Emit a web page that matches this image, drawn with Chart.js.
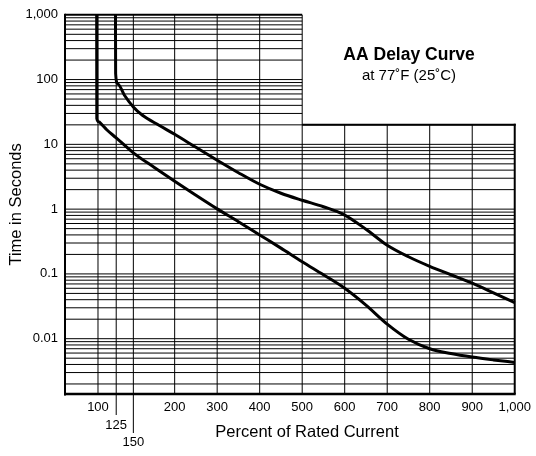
<!DOCTYPE html>
<html><head><meta charset="utf-8">
<script src="https://cdn.jsdelivr.net/npm/chart.js@4.4.1/dist/chart.umd.min.js"></script>
<style>html,body{margin:0;padding:0;background:#fff;}canvas{display:block;}</style>
</head><body>
<canvas id="c" width="536" height="456"></canvas>
<script>
// ---- tick values & labels ----
const xTicks = [100, 125, 150, 200, 300, 400, 500, 600, 700, 800, 900, 1000];
const xTickLabels = [['100'], ['', '125'], ['', '', '150'], ['200'], ['300'], ['400'], ['500'], ['600'], ['700'], ['800'], ['900'], ['1,000']];
const yTicks = [0.01, 0.1, 1, 10, 100, 1000];
const yTickLabels = ['0.01', '0.1', '1', '10', '100', '1,000'];

// ---- series (percent of rated current, time in seconds) ----
const fastPct = [98, 98.2, 101, 105, 112, 125, 150, 175, 200, 250, 300, 350, 400, 450, 500, 550, 600, 650, 700, 750, 800, 850, 900, 950, 1000];
const fastSec = [1000, 25, 22.3, 20.4, 16.8, 12.6, 7.4, 4.43, 2.7, 1.64, 1.01, 0.64, 0.40, 0.25, 0.154, 0.097, 0.060, 0.033, 0.0168, 0.0098, 0.0070, 0.0059, 0.0052, 0.0047, 0.0043];
const slowPct = [124, 124.2, 127, 137, 150, 161, 181, 200, 250, 300, 350, 400, 450, 500, 550, 600, 650, 700, 750, 800, 850, 900, 950, 1000];
const slowSec = [1000, 124, 86.7, 57.3, 37.8, 28.1, 19.7, 14.3, 9.0, 5.7, 3.65, 2.42, 1.76, 1.37, 1.09, 0.81, 0.49, 0.277, 0.184, 0.131, 0.097, 0.072, 0.051, 0.036];

// ---- scale definition of the chart paper (x is stretched below 200 %) ----
const xKnots = [50, 100, 125, 150, 200, 1000];
const xKnotWeights = [33.3, 18.4, 17.3, 41.7, 343.3];
const paperSplitPct = 500;   // right part of the paper starts here
const paperSplitSec = 20;    // and only reaches this time

const FONT = '"Liberation Sans", Arial, Helvetica, sans-serif';

class PiecewiseScale extends Chart.Scale {
  constructor(cfg) { super(cfg); }
  determineDataLimits() { this.min = xKnots[0]; this.max = xKnots[xKnots.length - 1]; }
  buildTicks() { return xTicks.map(v => ({ value: v })); }
  getLabelForValue(v) { return String(v); }
  _dec(v) {
    const total = xKnotWeights.reduce((a, b) => a + b, 0);
    let acc = 0;
    for (let i = 0; i < xKnotWeights.length; i++) {
      const a = xKnots[i], b = xKnots[i + 1];
      if (v <= b || i === xKnotWeights.length - 1) {
        return (acc + (v - a) / (b - a) * xKnotWeights[i]) / total;
      }
      acc += xKnotWeights[i];
    }
    return 1;
  }
  getPixelForValue(v) { return this.getPixelForDecimal(this._dec(v)); }
  getValueForPixel(p) {
    const total = xKnotWeights.reduce((a, b) => a + b, 0);
    let d = this.getDecimalForPixel(p) * total, acc = 0;
    for (let i = 0; i < xKnotWeights.length; i++) {
      if (d <= acc + xKnotWeights[i] || i === xKnotWeights.length - 1) {
        return xKnots[i] + (d - acc) / xKnotWeights[i] * (xKnots[i + 1] - xKnots[i]);
      }
      acc += xKnotWeights[i];
    }
    return this.max;
  }
}
PiecewiseScale.id = 'piecewise';
PiecewiseScale.defaults = {};
Chart.register(PiecewiseScale);

const paperPlugin = {
  id: 'paper',
  beforeDatasetsDraw(chart) {
    const { ctx, chartArea: ca, scales: { x, y } } = chart;
    const xSplit = x.getPixelForValue(paperSplitPct);
    const ySplit = y.getPixelForValue(paperSplitSec);
    const line = (x1, y1, x2, y2, w) => {
      ctx.lineWidth = w; ctx.beginPath(); ctx.moveTo(x1, y1); ctx.lineTo(x2, y2); ctx.stroke();
    };
    ctx.save();
    ctx.strokeStyle = '#000';
    for (let e = -3; e <= 2; e++) {
      for (let k = 1; k <= 9; k++) {
        const v = k * Math.pow(10, e);
        if (v < y.min || v >= y.max) continue;
        const py = y.getPixelForValue(v);
        const right = v > paperSplitSec * 1.0001 ? xSplit : ca.right;
        line(ca.left, py, right, py, 1);
      }
    }
    xTicks.forEach(v => {
      const px = x.getPixelForValue(v);
      const top = v > paperSplitPct ? ySplit : ca.top;
      if (v === xTicks[xTicks.length - 1]) line(px, ca.bottom, px, ySplit - 1, 2);
      else line(px, ca.bottom, px, top, 1);
    });
    line(x.getPixelForValue(125), ca.bottom, x.getPixelForValue(125), ca.bottom + 21, 1);
    line(x.getPixelForValue(150), ca.bottom, x.getPixelForValue(150), ca.bottom + 39, 1);
    line(ca.left, ca.top, xSplit, ca.top, 2);
    line(xSplit, ySplit, ca.right + 1, ySplit, 2);
    line(ca.left, ca.top - 1, ca.left, ca.bottom + 1.5, 2);
    line(ca.left - 1, ca.bottom, ca.right + 1, ca.bottom, 2.5);
    ctx.restore();
  },
  afterDraw(chart) {
    const { ctx, chartArea: ca } = chart;
    ctx.save();
    ctx.fillStyle = '#000';
    ctx.textAlign = 'center';
    ctx.textBaseline = 'alphabetic';
    ctx.font = 'bold 17.5px ' + FONT;
    ctx.fillText('AA Delay Curve', 409, 60);
    ctx.font = '15px ' + FONT;
    ctx.fillText('at 77\u02DAF (25\u02DAC)', 409, 80);
    ctx.font = '16.5px ' + FONT;
    ctx.fillText('Percent of Rated Current', 307, 437);
    ctx.translate(21, (ca.top + ca.bottom) / 2);
    ctx.rotate(-Math.PI / 2);
    ctx.font = '16.5px ' + FONT;
    ctx.fillText('Time in Seconds', 0, 0);
    ctx.restore();
  }
};

const toPoints = (xs, ys) => xs.map((v, i) => ({ x: v, y: ys[i] }));

new Chart(document.getElementById('c'), {
  type: 'line',
  data: {
    datasets: [
      { label: 'fast', data: toPoints(fastPct, fastSec), borderColor: '#000', borderWidth: 3, pointRadius: 0, cubicInterpolationMode: 'monotone', fill: false },
      { label: 'slow', data: toPoints(slowPct, slowSec), borderColor: '#000', borderWidth: 3, pointRadius: 0, cubicInterpolationMode: 'monotone', fill: false }
    ]
  },
  options: {
    responsive: false,
    animation: false,
    devicePixelRatio: 1,
    layout: { padding: { left: 0, right: 17, top: 14.5, bottom: 0 } },
    plugins: { legend: { display: false }, tooltip: { enabled: false } },
    scales: {
      x: {
        type: 'piecewise', position: 'bottom',
        grid: { display: false, drawTicks: false }, border: { display: false },
        ticks: {
          autoSkip: false, maxRotation: 0, minRotation: 0, padding: 5, color: '#000',
          font: { family: FONT, size: 13, lineHeight: 1.35 },
          callback: (v) => { const i = xTicks.indexOf(v); return i >= 0 ? xTickLabels[i] : ''; }
        },
        afterFit: (s) => { s.height = 62; }
      },
      y: {
        type: 'logarithmic', position: 'left', min: 0.0014, max: 1000, bounds: 'data',
        grid: { display: false, drawTicks: false }, border: { display: false },
        afterBuildTicks: (s) => { s.ticks = yTicks.map(v => ({ value: v })); },
        ticks: {
          autoSkip: false, padding: 7, color: '#000',
          font: { family: FONT, size: 13 },
          callback: (v) => { const i = yTicks.indexOf(v); return i >= 0 ? yTickLabels[i] : ''; }
        },
        afterFit: (s) => { s.width = 65; }
      }
    }
  },
  plugins: [paperPlugin]
});
</script>
</body></html>
